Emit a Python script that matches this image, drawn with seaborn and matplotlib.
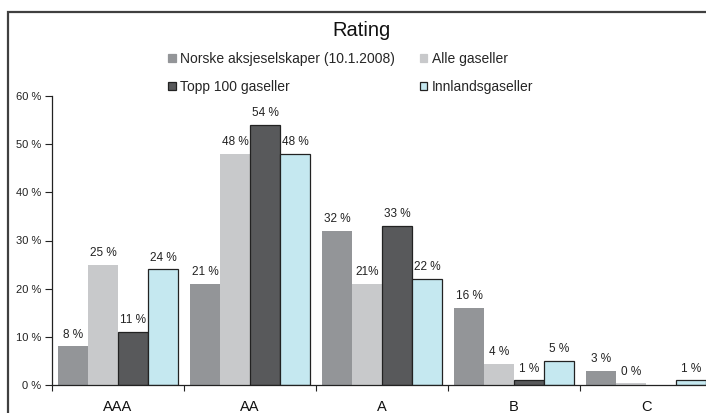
import matplotlib
matplotlib.use("Agg")
import matplotlib.pyplot as plt
import matplotlib.patches as mpatches
import seaborn as sns
import pandas as pd
import numpy as np

categories = ["AAA", "AA", "A", "B", "C"]
series = ["Norske aksjeselskaper (10.1.2008)", "Alle gaseller", "Topp 100 gaseller", "Innlandsgaseller"]
norske = [8, 21, 32, 16, 3]
alle = [25, 48, 21, 4.4, 0.4]
topp = [11, 54, 33, 1, 0]
innland = [24, 48, 22, 5, 1]
labels_norske = ["8 %", "21 %", "32 %", "16 %", "3 %"]
labels_alle = ["25 %", "48 %", "21%", "4 %", "0 %"]
labels_topp = ["11 %", "54 %", "33 %", "1 %", ""]
labels_innland = ["24 %", "48 %", "22 %", "5 %", "1 %"]
yticks = [0, 10, 20, 30, 40, 50, 60]
ytick_labels = ["0 %", "10 %", "20 %", "30 %", "40 %", "50 %", "60 %"]

colors = ["#939598", "#c8c9cb", "#58595b", "#c5e8f0"]
edges = ["none", "none", "#222222", "#222222"]

values = [norske, alle, topp, innland]
rows = []
for s, vals in zip(series, values):
    for c, v in zip(categories, vals):
        rows.append({"Kategori": c, "Serie": s, "Andel": v})
df = pd.DataFrame(rows)

sns.set_style("white")
plt.rcParams["font.family"] = ["Liberation Sans", "DejaVu Sans"]

fig = plt.figure(figsize=(7.06, 4.13), dpi=100)
ax = fig.add_axes([52 / 706, 1 - 385 / 413, (712 - 52) / 706, 289 / 413])

sns.barplot(data=df, x="Kategori", y="Andel", hue="Serie", order=categories,
            hue_order=series, palette=colors, width=0.91, saturation=1,
            errorbar=None, ax=ax, legend=False)

all_labels = [labels_norske, labels_alle, labels_topp, labels_innland]
for cont, ec, labs in zip(ax.containers, edges, all_labels):
    for bar in cont:
        if ec == "none" or bar.get_height() == 0:
            bar.set_edgecolor("none")
            bar.set_linewidth(0)
        else:
            bar.set_edgecolor(ec)
            bar.set_linewidth(0.9)
    ax.bar_label(cont, labels=labs, padding=4, fontsize=8.5, color="#222222")

ax.set_ylim(0, 60)
ax.set_xlim(-0.5, 4.5)
ax.set_yticks(yticks)
ax.set_yticklabels(ytick_labels, fontsize=8, color="#222222")
ax.set_xticks(range(len(categories)))
ax.set_xticklabels(categories, fontsize=10.5, color="#111111")
ax.set_xticks([-0.5, 0.5, 1.5, 2.5, 3.5], minor=True)
ax.tick_params(axis="x", which="major", length=0, pad=11)
ax.tick_params(axis="x", which="minor", length=4, width=0.8, color="#222222", direction="out", bottom=True)
ax.tick_params(axis="y", length=5, width=0.8, color="#222222", direction="out", pad=3, left=True)
ax.set_xlabel("")
ax.set_ylabel("")
for side in ["top", "right"]:
    ax.spines[side].set_visible(False)
for side in ["left", "bottom"]:
    ax.spines[side].set_color("#222222")
    ax.spines[side].set_linewidth(0.9)

fig.text(361 / 706, 1 - 31 / 413, "Rating", ha="center", va="center", fontsize=14.5, color="#111111")

handles = [mpatches.Patch(facecolor=c, edgecolor=(e if e != "none" else c), linewidth=0.9)
           for c, e in zip(colors, edges)]
# matplotlib fills legend columns first; reorder so rows read Norske/Alle, Topp/Innland
order = [0, 2, 1, 3]
leg = fig.legend([handles[i] for i in order], [series[i] for i in order], ncol=2, loc="upper left",
                 bbox_to_anchor=(161 / 706, 1 - 45 / 413), frameon=False,
                 fontsize=10, handlelength=0.55, handleheight=0.55, handletextpad=0.35,
                 columnspacing=1.75, labelspacing=1.0, borderpad=0)

frame = mpatches.Rectangle((8 / 706, -0.05), 1.1, 1 - 12 / 413 + 0.05, transform=fig.transFigure,
                           fill=False, edgecolor="#404040", linewidth=1.6, clip_on=False)
fig.patches.append(frame)

fig.savefig("out.png", dpi=100)
